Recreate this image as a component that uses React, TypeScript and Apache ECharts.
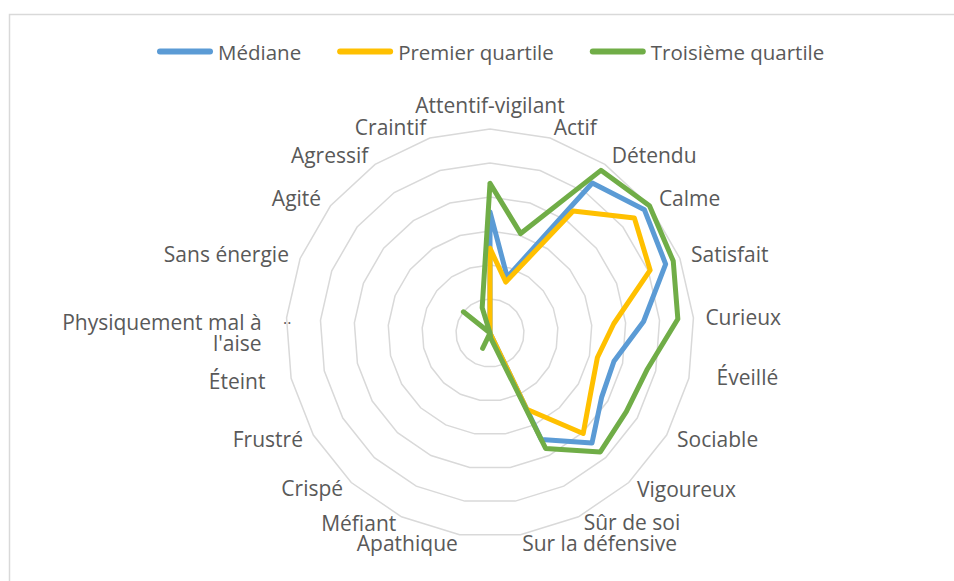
import React, { useEffect, useRef } from "react";
import * as echarts from "echarts";

// Axes, clockwise from the top
const indicators: string[] = [
  "Attentif-vigilant", "Actif", "Détendu", "Calme", "Satisfait", "Curieux",
  "Éveillé", "Sociable", "Vigoureux", "Sûr de soi", "Sur la défensive",
  "Apathique", "Méfiant", "Crispé", "Frustré", "Éteint",
  "Physiquement mal à l'aise", "Sans énergie", "Agité", "Agressif", "Craintif",
];

const seriesNames: string[] = ["Médiane", "Premier quartile", "Troisième quartile"];

const mediane: number[] = [3.56, 1.72, 5.34, 5.81, 5.55, 4.53, 3.74, 3.79, 4.41, 3.48, 0, 0, 0, 0, 0, 0, 0, 0, 0, 0, 0];
const premierQuartile: number[] = [2.49, 1.57, 4.34, 5.43, 5.06, 3.65, 3.24, 3.43, 4.03, 2.49, 0, 0, 0, 0, 0, 0, 0, 0, 0, 0, 0];
const troisiemeQuartile: number[] = [4.4, 3.06, 5.79, 6.0, 5.79, 5.54, 4.75, 4.63, 4.77, 3.77, 0.15, 0, 0.5, 0, 0, 0, 0, 0, 1.0, 0, 0.78];

const axisMax = 6;
const colors = ["#5B9BD5", "#FFC000", "#70AD47"];

// ECharts lays radar indicators counter-clockwise; reorder to get clockwise layout
const n = indicators.length;
const order: number[] = [0];
for (let i = n - 1; i >= 1; i--) order.push(i);
const reorder = (arr: any[]) => order.map((i) => arr[i]);

const FONT = "'Open Sans', 'Noto Sans', sans-serif";
const NAME_COLOR = "#595959";
const NAME_SIZE = 21;

// label nudges (padding: top, right, bottom, left) to mimic the reference placement
const nudges: Record<string, number[]> = {
  "Attentif-vigilant": [0, 0, 4, 0],
  "Éveillé": [0, 0, 8, 16],
  "Sociable": [0, 0, 4, 0],
  "Vigoureux": [0, 0, 4, 0],
  "Sûr de soi": [0, 0, 12, 0],
  "Sur la défensive": [0, 0, 8, 0],
  "Apathique": [0, 0, 8, 0],
  "Méfiant": [0, 0, 10, 0],
  "Crispé": [0, 0, 6, 0],
  "Frustré": [0, 0, 4, 0],
  "Éteint": [0, 14, 0, 0],
};

const baseStyle = { color: NAME_COLOR, fontSize: NAME_SIZE, fontFamily: FONT, lineHeight: 20 };
const rich: Record<string, any> = {
  sp: { fontSize: 4, lineHeight: 31, color: "rgba(0,0,0,0)" },
  pm: { ...baseStyle, lineHeight: 21, align: "right", padding: [0, 13, 0, 0] },
};
indicators.forEach((name, i) => {
  if (nudges[name]) rich["n" + i] = { ...baseStyle, padding: nudges[name] };
});

const nameFormatter = (name: string) => {
  if (name === "Physiquement mal à l'aise") return "{sp| }\n{pm|Physiquement mal à}\n{pm|l'aise}";
  const i = indicators.indexOf(name);
  return nudges[name] ? `{n${i}|${name}}` : name;
};

export default function App() {
  const ref = useRef<HTMLDivElement>(null);
  useEffect(() => {
    if (!ref.current) return;
    const chart = echarts.init(ref.current, null, { renderer: "svg" });
    const allData = [mediane, premierQuartile, troisiemeQuartile];
    chart.setOption({
      animation: false,
      backgroundColor: "#ffffff",
      legend: {
        left: 152,
        top: 36,
        itemWidth: 56,
        itemHeight: 6,
        itemGap: 36,
        icon: "path://M3,0H53A3,3,0,0,1,53,6H3A3,3,0,0,1,3,0Z",
        textStyle: { color: NAME_COLOR, fontSize: 20.5, fontFamily: FONT },
        data: seriesNames,
      },
      graphic: [
        {
          type: "rect",
          shape: { x: 9.5, y: 14.5, width: 1000, height: 700 },
          style: { fill: "none", stroke: "#d9d9d9", lineWidth: 1.5 },
          silent: true,
        },
        {
          type: "text",
          left: 283,
          top: 310,
          style: { text: "..", fill: NAME_COLOR, font: "16px " + FONT },
          silent: true,
        },
      ],
      radar: {
        center: [490, 333],
        radius: 204,
        startAngle: 90,
        splitNumber: 6,
        shape: "polygon",
        nameGap: 12,
        axisName: {
          ...baseStyle,
          formatter: nameFormatter,
          rich,
        },
        axisLine: { show: false },
        axisTick: { show: false },
        axisLabel: { show: false },
        splitArea: { show: false },
        splitLine: { lineStyle: { color: "#d9d9d9", width: 1.5 } },
        indicator: reorder(indicators).map((name: string) => ({ name, min: 0, max: axisMax })),
      },
      series: [
        {
          type: "radar",
          symbol: "none",
          data: allData.map((vals, k) => ({
            name: seriesNames[k],
            value: reorder(vals),
            itemStyle: { color: colors[k] },
            lineStyle: { color: colors[k], width: 5, join: "round", cap: "round" },
          })),
        },
      ],
    });
    return () => chart.dispose();
  }, []);
  return (
    <div
      ref={ref}
      style={{ position: "fixed", left: 0, top: 0, width: 954, height: 581 }}
    />
  );
}
